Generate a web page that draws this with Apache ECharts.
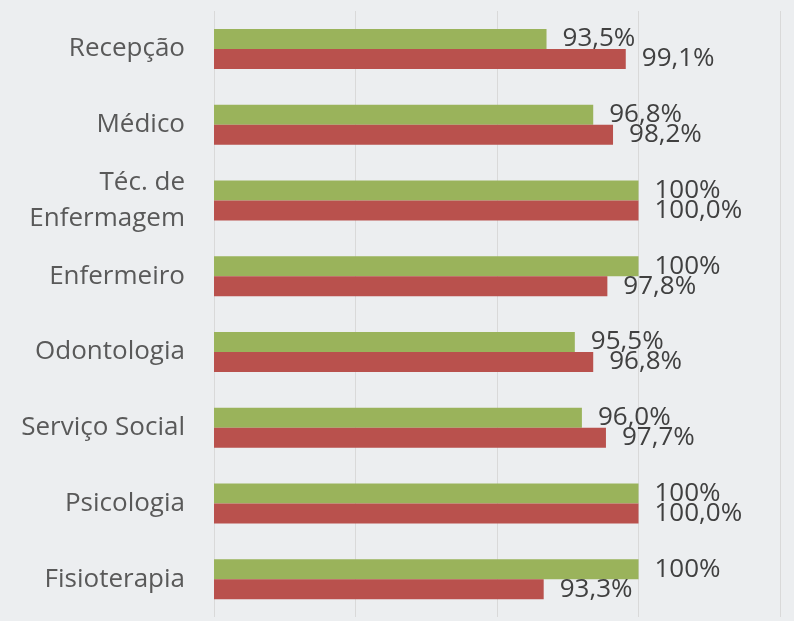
<!DOCTYPE html>
<html>
<head>
<meta charset="utf-8">
<script src="https://cdn.jsdelivr.net/npm/echarts@6/dist/echarts.min.js"></script>
<style>
  html, body { margin: 0; padding: 0; background: #eceef0; }
  #myEcharts { width: 794px; height: 621px; }
</style>
</head>
<body>
<div id="myEcharts"></div>
<script>
// categories, top to bottom
const categories = ["Recepção", "Médico", "Téc. de\nEnfermagem", "Enfermeiro", "Odontologia", "Serviço Social", "Psicologia", "Fisioterapia"];
// green series (upper bar in each pair)
const greenValues = [93.5, 96.8, 100, 100, 95.5, 96.0, 100, 100];
// red series (lower bar in each pair)
const redValues = [99.1, 98.2, 100.0, 97.8, 96.8, 97.7, 100.0, 93.3];
const axisMin = 70, axisMax = 110, axisStep = 10;

const chartDom = document.getElementById("myEcharts");
const myChart = echarts.init(chartDom);

function fmt(v) {
  return v.toFixed(1).replace(".", ",") + "%";
}

const labelStyle = {
  show: true,
  position: "right",
  distance: 16,
  fontFamily: "Open Sans",
  fontSize: 26,
  color: "#404040"
};

const option = {
  backgroundColor: "#eceef0",
  animation: false,
  grid: { left: 214, right: 14, top: 11, bottom: 4, containLabel: false },
  xAxis: {
    type: "value",
    min: axisMin,
    max: axisMax,
    interval: axisStep,
    axisLabel: { show: false },
    axisLine: { show: false },
    axisTick: { show: false },
    splitLine: { show: true, lineStyle: { color: "#d9d9d9", width: 1 } }
  },
  yAxis: {
    type: "category",
    data: categories,
    inverse: true,
    axisLine: { show: false },
    axisTick: { show: false },
    axisLabel: {
      margin: 29,
      fontFamily: "Open Sans",
      fontSize: 26,
      lineHeight: 36,
      color: "#595959",
      align: "right"
    }
  },
  series: [
    {
      name: "green",
      type: "bar",
      data: greenValues,
      barWidth: 20,
      barGap: "0%",
      itemStyle: { color: "#9ab35b" },
      label: Object.assign({}, labelStyle, {
        formatter: p => (p.value === 100 ? "100%" : fmt(p.value))
      })
    },
    {
      name: "red",
      type: "bar",
      data: redValues,
      barWidth: 20,
      barGap: "0%",
      itemStyle: { color: "#b9514d" },
      label: Object.assign({}, labelStyle, {
        formatter: p => fmt(p.value)
      })
    }
  ]
};
option && myChart.setOption(option);
</script>
</body>
</html>
